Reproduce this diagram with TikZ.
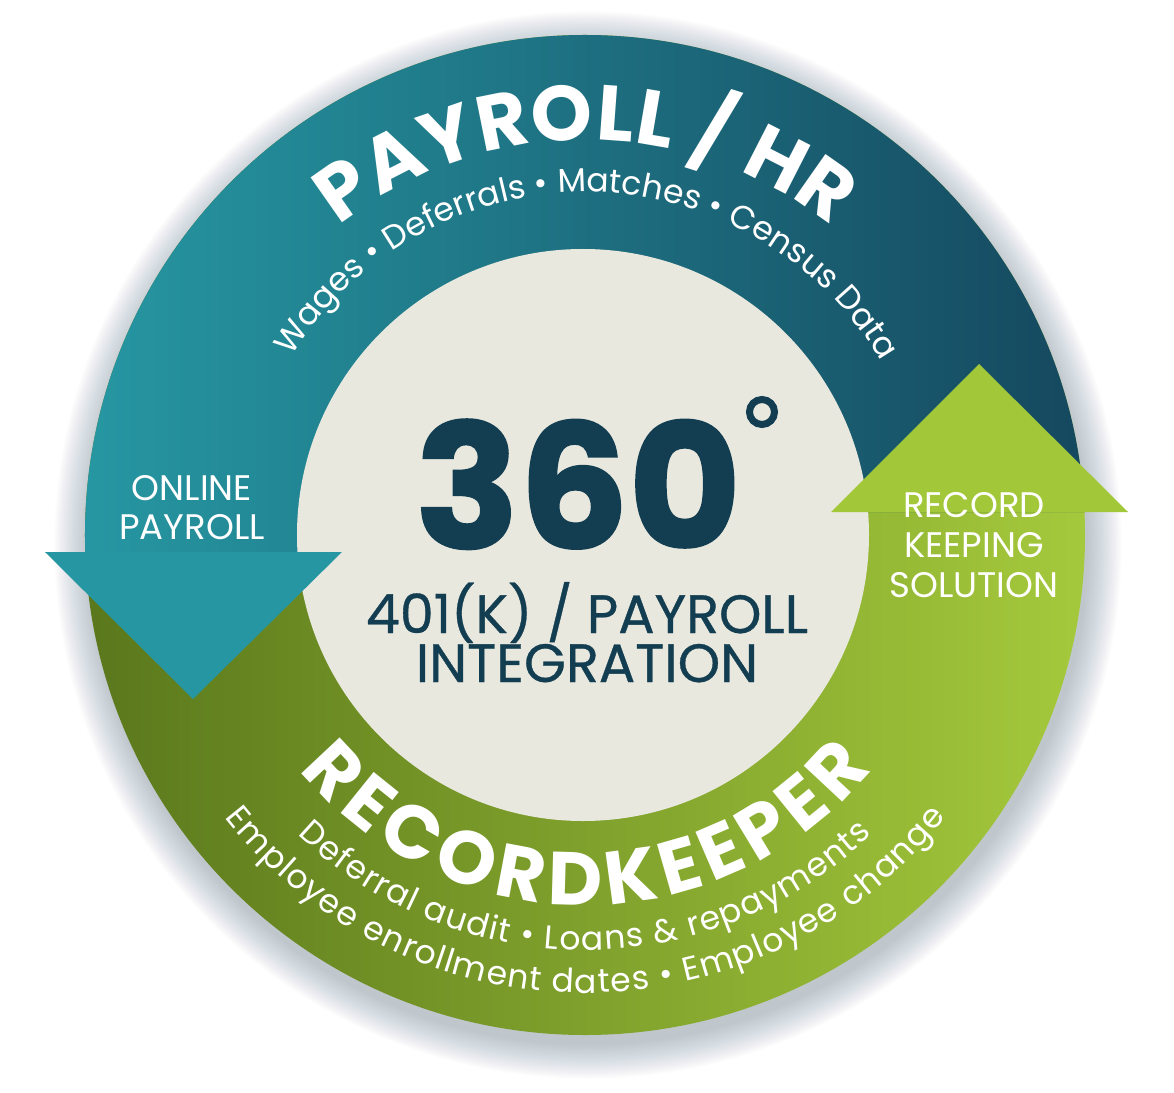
\documentclass[tikz,border=0pt]{standalone}
\usepackage{fontspec}
\setmainfont{Poppins}
\usetikzlibrary{decorations.text}
\definecolor{tealL}{RGB}{38,151,162}
\definecolor{tealD}{RGB}{21,72,95}
\definecolor{greenD}{RGB}{90,120,28}
\definecolor{greenL}{RGB}{165,201,60}
\definecolor{arrT}{RGB}{38,151,162}
\definecolor{arrG}{RGB}{162,200,58}
\definecolor{discc}{RGB}{233,232,222}
\definecolor{navy}{RGB}{19,62,82}
\definecolor{shadowc}{RGB}{90,110,125}
\newcommand\fBig{\bfseries\fontsize{78}{84}\selectfont}
\newcommand\fBigB{\bfseries\fontsize{75}{84}\selectfont}
\newcommand\fSmall{\fontsize{33}{40}\selectfont}
\begin{document}
\begin{tikzpicture}[x=1pt,y=1pt,
  arctext/.style={decorate, decoration={text along path, text align={fit to path}, text color=white, text={#1}}},
  whitetext/.style={text=white, anchor=base, inner sep=0pt, font=\fontsize{35.5}{40}\selectfont},
  navytext/.style={text=navy, anchor=base, inner sep=0pt}]
\useasboundingbox (-585,-557) rectangle (589,535);
\fill[white] (-585,-557) rectangle (589,535);
% soft shadow
\foreach \i in {0,...,24} {\fill[shadowc, opacity=0.014] (3,-10) circle[radius=500+1.4*\i];}
% green ring
\shade[left color=greenD, right color=greenL] (0,0) circle[radius=500];
% teal ring
\begin{scope}
  \clip (-600,-17) -- (0,-17) -- (0,23) -- (600,23) -- (600,600) -- (-600,600) -- cycle;
  \shade[left color=tealL, right color=tealD] (0,0) circle[radius=500];
\end{scope}
% centre disc
\fill[discc] (-2,0) circle[radius=286];
% arrow heads
\fill[arrT] (-540,-17) -- (-243,-17) -- (-392,-164) -- cycle;
\fill[arrG] (246,23) -- (543,23) -- (394,171) -- cycle;
% curved texts
\path[arctext={|\color{white}\fBig|PAYROLL / HR}] (128.5:395) arc[start angle=128.5, end angle=51.3, radius=395];
\path[arctext={|\color{white}\fSmall|Wages • Deferrals • Matches • Census Data}] (148.7:343) arc[start angle=148.7, end angle=31.3, radius=343];
\path[arctext={|\color{white}\fBigB|RECORDKEEPER}] (219.4:370) arc[start angle=219.4, end angle=320.8, radius=370];
\path[arctext={|\color{white}\fSmall|Deferral audit • Loans {\&} repayments}] (226.2:415) arc[start angle=226.2, end angle=313.8, radius=415];
\path[arctext={|\color{white}\fSmall|Employee enrollment dates • Employee change}] (218:458) arc[start angle=218, end angle=322, radius=458];
% centre texts
\node[navytext, font=\bfseries\fontsize{172}{172}\selectfont\addfontfeature{FakeBold=1.5}] (n360) at (-7,-13) {360};
\node[circle, draw=navy, line width=7pt, minimum size=25pt, inner sep=0pt] (deg) at (177,123) {};
\node[navytext, font=\fontsize{54}{56}\selectfont\addfontfeature{FakeBold=0.6}] (l401) at (2,-98) {401(K) / PAYROLL};
\node[navytext, font=\fontsize{54}{56}\selectfont\addfontfeature{FakeBold=0.6}] (lint) at (2,-147) {INTEGRATION};
% arrow labels
\node[whitetext] (on1) at (-393,35) {ONLINE};
\node[whitetext] (on2) at (-393,-4) {PAYROLL};
\node[whitetext] (rk1) at (389,18) {RECORD};
\node[whitetext] (rk2) at (389,-22) {KEEPING};
\node[whitetext] (rk3) at (389,-62) {SOLUTION};
\end{tikzpicture}
\end{document}
